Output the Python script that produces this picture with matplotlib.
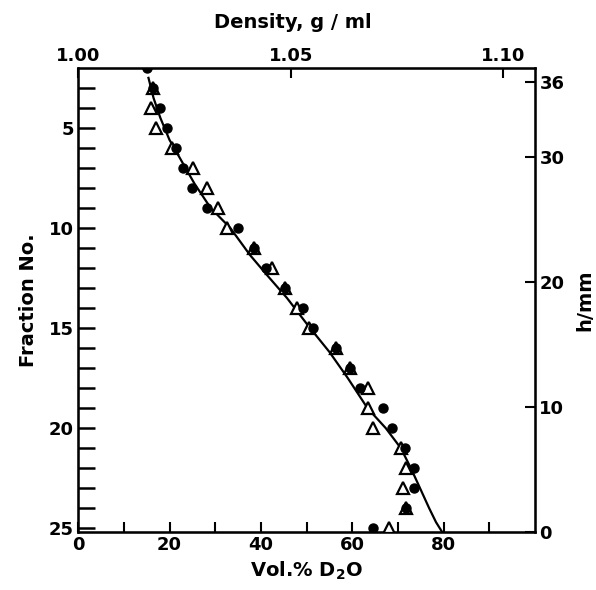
import matplotlib
matplotlib.use("Agg")
import matplotlib.pyplot as plt

plt.rcParams['font.family'] = ['DejaVu Sans']
plt.rcParams['font.weight'] = 'bold'
plt.rcParams['mathtext.default'] = 'bf'

# filled circles: fraction no. vs vol.% D2O
circ_frac = [2, 3, 4, 5, 6, 7, 8, 9, 10, 11, 12, 13, 14, 15, 16, 17, 18, 19, 20, 21, 22, 23, 24, 25]
circ_vol = [15.0, 16.3, 17.9, 19.5, 21.4, 22.9, 24.9, 28.2, 34.9, 38.4, 41.1, 45.3, 49.2, 51.5,
            56.5, 59.4, 61.7, 66.7, 68.6, 71.6, 73.5, 73.4, 71.8, 64.5]

# open triangles
tri_frac = [3, 4, 5, 6, 7, 8, 9, 10, 11, 12, 13, 14, 15, 16, 17, 18, 19, 20, 21, 22, 23, 24, 25]
tri_vol = [16.3, 15.9, 17.1, 20.5, 25.2, 28.2, 30.5, 32.5, 38.4, 42.5, 45.3, 47.9, 50.6,
           56.5, 59.4, 63.5, 63.4, 64.5, 70.6, 71.8, 71.0, 71.8, 68.1]

# calculated gradient
line_frac = [2.5, 3.5, 4.5, 5.6, 6.6, 7.8, 9.0, 10.0, 11.35, 12.4, 13.5, 14.9, 16.2, 17.5,
             19.0, 20.0, 21.0, 22.0, 23.0, 24.0, 24.7, 25.25]
line_vol = [15.4, 16.5, 18.0, 20.0, 22.5, 25.5, 29.0, 33.3, 37.6, 41.5, 45.7, 50.4, 55.0, 59.0,
            63.3, 67.3, 70.6, 72.8, 74.8, 76.8, 78.3, 79.8]

fig = plt.figure(figsize=(5.96, 5.90), dpi=100)
ax = fig.add_axes([0.131, 0.098, 0.767, 0.787])

ax.plot(line_vol, line_frac, color='black', lw=1.6, zorder=2)
ax.plot(tri_vol, tri_frac, linestyle='none', marker='^', markersize=8.5,
        markerfacecolor='white', markeredgecolor='black', markeredgewidth=1.6, zorder=3)
ax.plot(circ_vol, circ_frac, linestyle='none', marker='o', markersize=6.5,
        color='black', zorder=4)

ax.set_xlim(0, 100)
ax.set_ylim(25.2, 2.0)
ax.set_xticks([0, 20, 40, 60, 80])
ax.set_xticks(range(10, 100, 10), minor=True)
ax.set_yticks([5, 10, 15, 20, 25])
ax.set_yticks([f for f in range(3, 26) if f % 5], minor=True)
ax.tick_params(axis='x', which='both', direction='in', length=7, width=1.5, labelsize=13, pad=3)
ax.tick_params(axis='y', which='both', direction='in', length=12, width=1.8, labelsize=13, pad=3)
ax.set_xlabel('Vol.% D$_2$O', fontsize=14, fontweight='bold', labelpad=4)
ax.set_ylabel('Fraction No.', fontsize=14, fontweight='bold', labelpad=8)
for s in ax.spines.values():
    s.set_linewidth(1.8)

# density scale on top
top = ax.twiny()
top.set_xlim(1.0, 1.1075)
top.set_xticks([1.00, 1.05, 1.10])
top.set_xticklabels(['1.00', '1.05', '1.10'])
top.tick_params(axis='x', direction='in', length=7, width=1.5, labelsize=13, pad=2)
top.set_xlabel('Density, g / ml', fontsize=14, fontweight='bold')
top.xaxis.set_label_coords(0.47, 1.085)

# height scale on right
right = ax.twinx()
right.set_ylim(0, 37.12)
right.set_yticks([0, 10, 20, 30, 36])
right.tick_params(axis='y', direction='in', length=7, width=1.5, labelsize=13, pad=3)
right.set_ylabel('h/mm', fontsize=14, fontweight='bold', rotation=90, labelpad=8)

fig.savefig('out.png', dpi=100)
